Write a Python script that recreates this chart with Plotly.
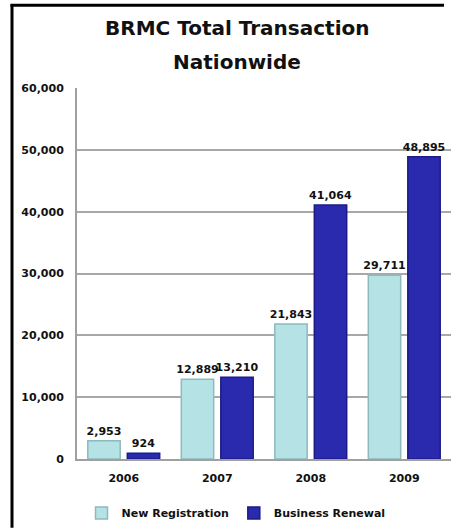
import plotly.graph_objects as go

years = ["2006", "2007", "2008", "2009"]
new_registration = [2953, 12889, 21843, 29711]
business_renewal = [924, 13210, 41064, 48895]
y_ticks = [0, 10000, 20000, 30000, 40000, 50000, 60000]
y_tick_labels = ["0", "10,000", "20,000", "30,000", "40,000", "50,000", "60,000"]
title_lines = ["BRMC Total Transaction", "Nationwide"]

W, H = 454, 529
ML, MR, MT, MB = 77, 3, 88, 69
pw, ph = W - ML - MR, H - MT - MB

def px_x(p):
    return (p - ML) / pw

def px_y(p):
    return (H - MB - p) / ph

FAM = "DejaVu Sans, Liberation Sans, Arial, sans-serif"
font_b = dict(family=FAM, size=11, color="#111111", weight="bold")

fig = go.Figure()
fig.add_trace(go.Bar(
    name="New Registration", x=years, y=new_registration,
    marker=dict(color="#B4E2E5", line=dict(color="#8FBABD", width=1.5)),
    text=[f"{v:,}" for v in new_registration], textposition="outside",
    textfont=font_b, cliponaxis=False, constraintext="none",
))
fig.add_trace(go.Bar(
    name="Business Renewal", x=years, y=business_renewal,
    marker=dict(color="#2A2AAE", line=dict(color="#1C1C86", width=1.5)),
    text=[f"{v:,}" for v in business_renewal], textposition="outside",
    textfont=font_b, cliponaxis=False, constraintext="none",
))

shapes = [
    dict(type="line", xref="paper", yref="paper", x0=px_x(12), x1=px_x(12), y0=px_y(4), y1=px_y(H),
         line=dict(color="black", width=3)),
    dict(type="line", xref="paper", yref="paper", x0=px_x(10.5), x1=px_x(W - 10), y0=px_y(5), y1=px_y(5),
         line=dict(color="black", width=3)),
]

annotations = [
    dict(text=title_lines[0], xref="paper", yref="paper", x=px_x(237), y=px_y(28),
         xanchor="center", yanchor="middle", showarrow=False,
         font=dict(family=FAM, size=20, color="#111111", weight="bold")),
    dict(text=title_lines[1], xref="paper", yref="paper", x=px_x(237), y=px_y(62),
         xanchor="center", yanchor="middle", showarrow=False,
         font=dict(family=FAM, size=20, color="#111111", weight="bold")),
]

fig.update_layout(
    width=W, height=H,
    margin=dict(l=ML, r=MR, t=MT, b=MB),
    paper_bgcolor="white", plot_bgcolor="white",
    barmode="group", bargap=0.155, bargroupgap=0.18,
    xaxis=dict(showline=True, linecolor="#A0A0A0", linewidth=2, ticks="", tickfont=font_b,
               ticklabelstandoff=8),
    yaxis=dict(range=[0, 60000], tickvals=y_ticks, ticktext=y_tick_labels,
               showgrid=True, gridcolor="#A8A8A8", gridwidth=1.5,
               showline=True, linecolor="#A0A0A0", linewidth=2, mirror=False,
               zeroline=False, tickfont=font_b, ticks="", ticklabelstandoff=9),
    legend=dict(orientation="h", x=px_x(236), xanchor="center", y=px_y(513), yanchor="middle",
                font=dict(family=FAM, size=11, color="#111111", weight="bold"),
                itemwidth=30, tracegroupgap=0, bgcolor="rgba(0,0,0,0)"),
    shapes=shapes,
    annotations=annotations,
    showlegend=True,
)
fig.write_html("out.html", config={"displayModeBar": False},
               post_script="document.body.style.margin='0';document.body.style.overflow='hidden';")
